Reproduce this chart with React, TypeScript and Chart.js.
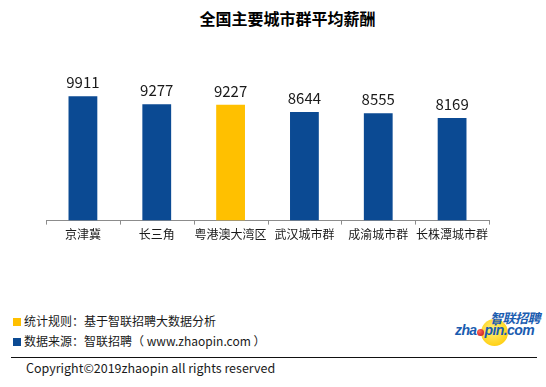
import React, { useEffect, useRef } from "react";
import { Chart, registerables } from "chart.js";

Chart.register(...registerables);

const categories = ["京津冀", "长三角", "粤港澳大湾区", "武汉城市群", "成渝城市群", "长株潭城市群"];
const salaries = [9911, 9277, 9227, 8644, 8555, 8169];
const highlightIndex = 2;
const yMax = 12000;

const BLUE = "#0b4a93";
const YELLOW = "#ffc000";
const FONT = "'Noto Sans CJK SC', 'Noto Sans', sans-serif";

const decorPlugin = {
  id: "decor",
  afterDraw(chart: any) {
    const ctx = chart.ctx;
    const xs = chart.scales.x;
    const n = categories.length;
    const w = (xs.right - xs.left) / n;
    ctx.save();
    ctx.strokeStyle = "#8c8c8c";
    ctx.lineWidth = 1;
    ctx.beginPath();
    for (let i = 0; i <= n; i++) {
      const px = Math.round(xs.left + i * w) + 0.5;
      ctx.moveTo(px, xs.top);
      ctx.lineTo(px, xs.top + 4);
    }
    ctx.stroke();
    const meta = chart.getDatasetMeta(0);
    ctx.fillStyle = "#1a1a1a";
    ctx.font = `15px ${FONT}`;
    ctx.textAlign = "center";
    ctx.textBaseline = "middle";
    meta.data.forEach((bar: any, i: number) => {
      ctx.fillText(String(salaries[i]), bar.x, bar.y - 14);
    });
    ctx.restore();
  },
};

function BarChart() {
  const ref = useRef<HTMLCanvasElement>(null);
  useEffect(() => {
    if (!ref.current) return;
    const chart = new Chart(ref.current, {
      type: "bar",
      data: {
        labels: categories,
        datasets: [
          {
            data: salaries,
            backgroundColor: salaries.map((_, i) => (i === highlightIndex ? YELLOW : BLUE)),
            barPercentage: 0.39,
            categoryPercentage: 1,
          },
        ],
      },
      options: {
        animation: false,
        responsive: false,
        maintainAspectRatio: false,
        layout: { padding: { left: 46, right: 57, top: 70, bottom: 15 } },
        plugins: { legend: { display: false }, tooltip: { enabled: false }, title: { display: false } },
        scales: {
          x: {
            grid: { display: true, drawOnChartArea: false, drawTicks: true, tickLength: 4, color: "rgba(0,0,0,0)" },
            border: { display: true, color: "#8c8c8c", width: 1 },
            ticks: { color: "#1a1a1a", font: { size: 12, family: FONT }, padding: 3, maxRotation: 0, autoSkip: false },
          },
          y: { display: false, min: 0, max: yMax },
        },
      },
      plugins: [decorPlugin],
    });
    return () => chart.destroy();
  }, []);
  return <canvas ref={ref} width={546} height={260} style={{ position: "absolute", left: 0, top: 0, width: 546, height: 260 }} />;
}

export default function App() {
  const text: React.CSSProperties = { position: "absolute", fontFamily: FONT, color: "#1a1a1a", whiteSpace: "pre" };
  return (
    <div style={{ position: "fixed", left: 0, top: 0, width: 546, height: 387, background: "#fff", overflow: "hidden" }}>
      <div style={{ ...text, left: 0, width: 575, top: 9, textAlign: "center", fontSize: 16, lineHeight: "18px", fontWeight: 700, color: "#000" }}>
        全国主要城市群平均薪酬
      </div>
      <BarChart />
      <div style={{ position: "absolute", left: 13, top: 318, width: 8, height: 8, background: YELLOW }} />
      <div style={{ ...text, left: 24, top: 313.5, fontSize: 12, lineHeight: "14px" }}>统计规则：基于智联招聘大数据分析</div>
      <div style={{ position: "absolute", left: 13, top: 337.5, width: 8, height: 8, background: BLUE }} />
      <div style={{ ...text, left: 24, top: 333.5, fontSize: 12, lineHeight: "14px" }}>数据来源：智联招聘（ www.zhaopin.com ）</div>
      <div style={{ position: "absolute", left: 11, top: 357, width: 526, height: 1, background: "#111" }} />
      <div style={{ ...text, left: 26, top: 360, fontSize: 12.5, lineHeight: "15px" }}>Copyright©2019zhaopin all rights reserved</div>
      {/* logo */}
      <div style={{ position: "absolute", left: 481, top: 319, width: 27, height: 27, borderRadius: "50%", background: "radial-gradient(circle at 45% 40%, #fff07a, #ffd21a 70%, #f7c000)" }} />
      <div style={{ ...text, left: 490, top: 310, fontSize: 13, lineHeight: "15px", fontWeight: 700, fontStyle: "italic", color: "#1a5cb0", letterSpacing: -0.5 }}>智联招聘</div>
      <div style={{ ...text, left: 455, top: 323, fontSize: 14, lineHeight: "15px", fontWeight: 700, fontStyle: "italic", color: "#1a5cb0", fontFamily: "'Liberation Sans', Arial, sans-serif", letterSpacing: -0.6 }}>
        zha<span style={{ display: "inline-block", width: 7, height: 7, borderRadius: "50%", background: "radial-gradient(circle at 35% 35%, #ff6a5a, #c0101a)", margin: "0 0.5px", verticalAlign: "-1px" }} />pin.com
      </div>
    </div>
  );
}
